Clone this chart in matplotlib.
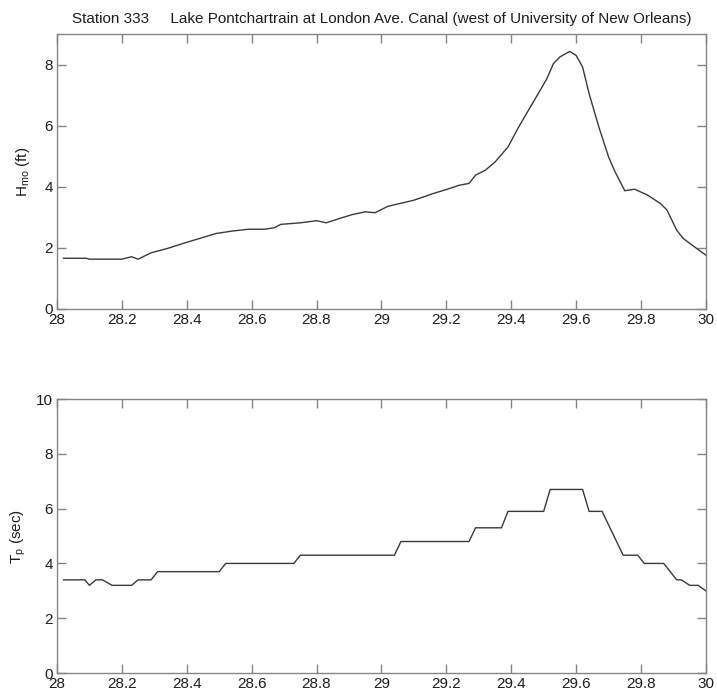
import matplotlib
matplotlib.use("Agg")
import matplotlib.pyplot as plt

# Wave height (Hmo, ft) vs. day of month
hmo_day = [28.02, 28.09, 28.10, 28.20, 28.23, 28.25, 28.29, 28.34, 28.39, 28.44,
           28.49, 28.54, 28.59, 28.64, 28.67, 28.69, 28.75, 28.80, 28.83, 28.87,
           28.91, 28.95, 28.98, 29.02, 29.10, 29.16, 29.20, 29.24, 29.27, 29.29,
           29.32, 29.35, 29.39, 29.42, 29.45, 29.48, 29.51, 29.53, 29.55, 29.58,
           29.60, 29.62, 29.64, 29.67, 29.70, 29.72, 29.75, 29.78, 29.82, 29.86,
           29.88, 29.91, 29.93, 29.95, 30.00]
hmo_ft = [1.66, 1.66, 1.63, 1.63, 1.71, 1.63, 1.84, 1.98, 2.15, 2.31,
          2.47, 2.55, 2.61, 2.61, 2.66, 2.77, 2.82, 2.89, 2.82, 2.96,
          3.09, 3.18, 3.15, 3.36, 3.56, 3.78, 3.91, 4.05, 4.11, 4.38,
          4.54, 4.81, 5.30, 5.90, 6.45, 6.99, 7.54, 8.03, 8.25, 8.43,
          8.30, 7.92, 7.05, 5.96, 4.98, 4.49, 3.87, 3.92, 3.73, 3.45,
          3.24, 2.58, 2.31, 2.15, 1.76]

# Peak period (Tp, sec) vs. day of month
tp_day = [28.02, 28.086, 28.10, 28.12, 28.14, 28.17, 28.23, 28.25, 28.29, 28.31,
          28.50, 28.52, 28.73, 28.75, 29.04, 29.06, 29.27, 29.29, 29.37, 29.39,
          29.50, 29.52, 29.62, 29.64, 29.68, 29.745, 29.79, 29.81, 29.87, 29.91,
          29.925, 29.95, 29.976, 30.00]
tp_sec = [3.4, 3.4, 3.2, 3.4, 3.4, 3.2, 3.2, 3.4, 3.4, 3.7,
          3.7, 4.0, 4.0, 4.3, 4.3, 4.8, 4.8, 5.3, 5.3, 5.9,
          5.9, 6.7, 6.7, 5.9, 5.9, 4.3, 4.3, 4.0, 4.0, 3.4,
          3.4, 3.2, 3.2, 3.0]

TITLE = ("Station 333     Lake Pontchartrain at London Ave. Canal "
         "(west of University of New Orleans)")
XTICKS = [28, 28.2, 28.4, 28.6, 28.8, 29, 29.2, 29.4, 29.6, 29.8, 30]
XTICKLABELS = ["28", "28.2", "28.4", "28.6", "28.8", "29", "29.2", "29.4",
               "29.6", "29.8", "30"]

plt.rcParams.update({
    "font.family": ["Liberation Sans", "DejaVu Sans"],
    "mathtext.fontset": "custom",
    "mathtext.rm": "Liberation Sans",
    "mathtext.it": "Liberation Sans",
    "font.size": 11,
})

C_LINE = "#3a3a3a"
C_AXIS = "#858585"
C_TEXT = "#1e1e1e"

fig = plt.figure(figsize=(7.17, 6.97), dpi=100)
ax1 = fig.add_axes([0.0795, 0.5567, 0.905, 0.3945])
ax2 = fig.add_axes([0.0795, 0.0344, 0.905, 0.3931])


def style(ax):
    for sp in ax.spines.values():
        sp.set_color(C_AXIS)
        sp.set_linewidth(1.0)
    ax.tick_params(direction="in", length=6.5, width=1.0, color=C_AXIS,
                   labelcolor=C_TEXT, labelsize=11, top=True, right=True,
                   pad=3)
    ax.set_xlim(28, 30)
    ax.set_xticks(XTICKS)
    ax.set_xticklabels(XTICKLABELS)


ax1.plot(hmo_day, hmo_ft, color=C_LINE, lw=1.0)
style(ax1)
ax1.set_ylim(0, 9)
ax1.set_yticks([0, 2, 4, 6, 8])
ax1.set_ylabel(r"H$_{\mathrm{mo}}$ (ft)", color=C_TEXT, fontsize=11, labelpad=9)
ax1.set_title(TITLE, color=C_TEXT, fontsize=11, pad=8)

ax2.plot(tp_day, tp_sec, color=C_LINE, lw=1.0)
style(ax2)
ax2.set_ylim(0, 10)
ax2.set_yticks([0, 2, 4, 6, 8, 10])
ax2.set_ylabel(r"T$_{\mathrm{p}}$ (sec)", color=C_TEXT, fontsize=11, labelpad=6)

fig.savefig("out.png", dpi=100, facecolor="white")
